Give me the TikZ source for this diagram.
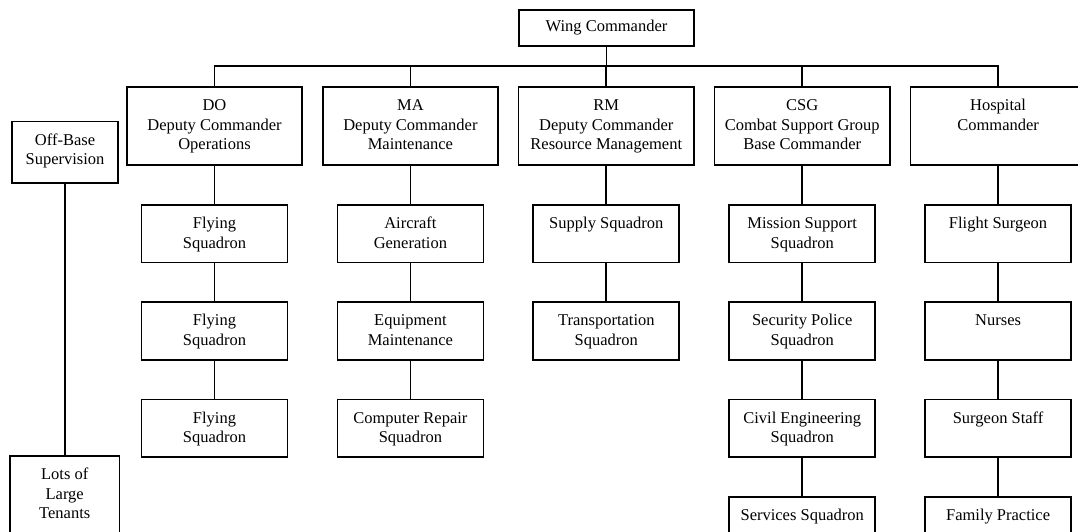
\documentclass[tikz,border=0pt]{standalone}
\usepackage{fontspec}
\setmainfont{Liberation Serif}
\tikzset{
  unit/.style 2 args={draw, line width=1.7pt, inner sep=0pt, anchor=north,
    execute at begin node={\begin{minipage}[c][#2][t]{#1}\centering\vspace*{10pt}\strut},
    execute at end node={\end{minipage}}},
  head/.style={unit={175.5pt}{78pt}},
  sub/.style={unit={146pt}{57.5pt}},
}
\begin{document}
\begin{tikzpicture}[x=1pt, y=-1pt, line width=1.7pt, font=\fontsize{16.5}{19.5}\selectfont]
    \useasboundingbox (0,0) rectangle (1078,531);
    % Top of the chart
    \node[draw, inner sep=0pt, minimum width=175pt, minimum height=36pt] (wing) at (606.5,27.9) {Wing Commander};
    \coordinate (bus) at (0,66);

    % Deputy commanders
    \node[head] (do)   at (214.5,86.3) {DO\\Deputy Commander\\Operations};
    \node[head] (ma)   at (410.4,86.3) {MA\\Deputy Commander\\Maintenance};
    \node[head] (rm)   at (606.3,86.3) {RM\\Deputy Commander\\Resource Management};
    \node[head] (csg)  at (802.2,86.3) {CSG\\Combat Support Group\\Base Commander};
    \node[head] (hosp) at (998.1,86.3) {Hospital\\Commander};

    \draw (wing.south) -- (wing.south |- bus);
    \draw (do.north) -- (do.north |- bus) -- (hosp.north |- bus) -- (hosp.north);
    \foreach \h in {ma,rm,csg} \draw (\h.north) -- (\h.north |- bus);

    % Squadrons under each deputy
    \foreach \i/\t in {1/{Flying\\Squadron}, 2/{Flying\\Squadron}, 3/{Flying\\Squadron}}
        \node[sub] (do\i) at (214.5,{204+97.35*(\i-1)}) {\t};
    \foreach \i/\t in {1/{Aircraft\\Generation}, 2/{Equipment\\Maintenance}, 3/{Computer Repair\\Squadron}}
        \node[sub] (ma\i) at (410.4,{204+97.35*(\i-1)}) {\t};
    \foreach \i/\t in {1/{Supply Squadron}, 2/{Transportation\\Squadron}}
        \node[sub] (rm\i) at (606.3,{204+97.35*(\i-1)}) {\t};
    \foreach \i/\t in {1/{Mission Support\\Squadron}, 2/{Security Police\\Squadron}, 3/{Civil Engineering\\Squadron}, 4/{Services Squadron}}
        \node[sub] (csg\i) at (802.2,{204+97.35*(\i-1)}) {\t};
    \foreach \i/\t in {1/{Flight Surgeon}, 2/{Nurses}, 3/{Surgeon Staff}, 4/{Family Practice}}
        \node[sub] (hosp\i) at (998.1,{204+97.35*(\i-1)}) {\t};

    \foreach \a/\b in {do/do1, do1/do2, do2/do3, ma/ma1, ma1/ma2, ma2/ma3, rm/rm1, rm1/rm2,
                       csg/csg1, csg1/csg2, csg2/csg3, csg3/csg4,
                       hosp/hosp1, hosp1/hosp2, hosp2/hosp3, hosp3/hosp4}
        \draw (\a.south) -- (\b.north);

    % Tenants on the side
    \node[unit={106pt}{61.5pt}] (offbase) at (65,120.7) {Off-Base\\Supervision};
    \node[unit={109.5pt}{90pt}] (tenants) at (64.7,455) {Lots of\\Large\\Tenants};
    \draw (offbase.south) -- (offbase.south |- tenants.north);
\end{tikzpicture}
\end{document}
